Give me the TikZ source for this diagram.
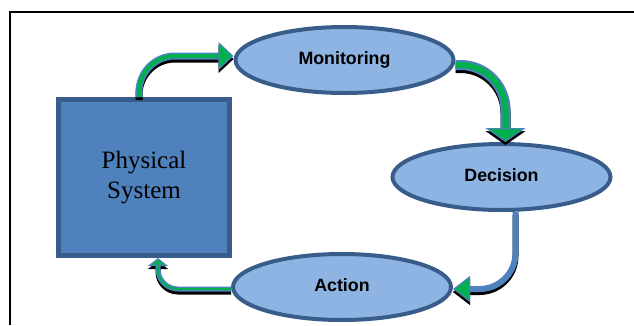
\documentclass[tikz,border=0pt]{standalone}
\usepackage{fontspec}
\setmainfont{Liberation Serif}
\newfontfamily\arial{Liberation Sans}
\usetikzlibrary{arrows.meta,shapes.geometric}
\definecolor{sysblue}{RGB}{79,129,189}
\definecolor{rimblue}{RGB}{56,93,138}
\definecolor{ovalfill}{RGB}{142,180,227}
\definecolor{flowgreen}{RGB}{0,176,80}
\definecolor{linkblue}{RGB}{79,129,189}

\begin{document}
\begin{tikzpicture}[x=1pt,y=-1pt,
                    oval/.style={draw=rimblue,fill=ovalfill,ellipse,line width=4pt,
                      minimum width=218pt,minimum height=66pt,inner sep=0pt,
                      font=\arial\fontsize{17.8}{20}\selectfont\bfseries},
                    shade/.style={black,line width=#1,transform canvas={yshift=-3pt}},
                    rim/.style={linkblue,line width=#1},
                    core/.style={flowgreen,line width=#1}]
\useasboundingbox (0,0) rectangle (634,325);
\draw[line width=2pt] (10,325) -- (10,12) -- (634,12);

\node[draw=rimblue, fill=sysblue, line width=5pt, minimum width=171pt, minimum height=156pt,
      inner sep=0pt, align=center, font=\fontsize{25}{30}\selectfont] (sys) at (144,177.5) {Physical\\System};
\node[oval] (mon) at (344.5,60) {Monitoring};
\node[oval] (dec) at (501.5,177) {\raisebox{3pt}{Decision}};
\node[oval] (act) at (342,287) {\raisebox{3pt}{Action}};

\draw[shade=7pt,rounded corners=36pt,-{Triangle[length=15pt,width=28pt,line width=0.5pt]}] ([xshift=-5pt]sys.north) |- ([yshift=4pt]mon.west);
\draw[rim=7pt,rounded corners=36pt,-{Triangle[length=15pt,width=28pt,fill=flowgreen,line width=1.2pt]}] ([xshift=-5pt]sys.north) |- ([yshift=4pt]mon.west);
\draw[core=4pt,rounded corners=36pt,shorten >=15pt] ([xshift=-5pt]sys.north) |- ([yshift=4pt]mon.west);

\draw[shade=10pt,rounded corners=45pt,-{Triangle[length=14pt,width=40pt,line width=0.5pt]}] ([yshift=-5pt]mon.east) -| ([xshift=4pt]dec.north);
\draw[rim=10pt,rounded corners=45pt,-{Triangle[length=14pt,width=40pt,fill=flowgreen,line width=1.2pt]}] ([yshift=-5pt]mon.east) -| ([xshift=4pt]dec.north);
\draw[core=6pt,rounded corners=45pt,shorten >=14pt] ([yshift=-5pt]mon.east) -| ([xshift=4pt]dec.north);

\draw[shade=6pt,rounded corners=36pt,-{Triangle[length=17pt,width=26pt,line width=0.5pt]}] ([xshift=14pt]dec.south) |- ([yshift=-2pt]act.east);
\draw[rim=6pt,rounded corners=36pt,-{Triangle[length=17pt,width=26pt,fill=flowgreen,line width=1.2pt]}] ([xshift=14pt]dec.south) |- ([yshift=-2pt]act.east);

\draw[shade=5pt,rounded corners=20pt,-{Triangle[length=8pt,width=20pt,line width=0.5pt]}] ([yshift=-2pt]act.west) -| ([xshift=14pt]sys.south);
\draw[rim=5pt,rounded corners=20pt,-{Triangle[length=8pt,width=20pt,fill=flowgreen,line width=1.2pt]}] ([yshift=-2pt]act.west) -| ([xshift=14pt]sys.south);
\draw[core=2pt,rounded corners=20pt,shorten >=8pt] ([yshift=-2pt]act.west) -| ([xshift=14pt]sys.south);

\end{tikzpicture}
\end{document}
